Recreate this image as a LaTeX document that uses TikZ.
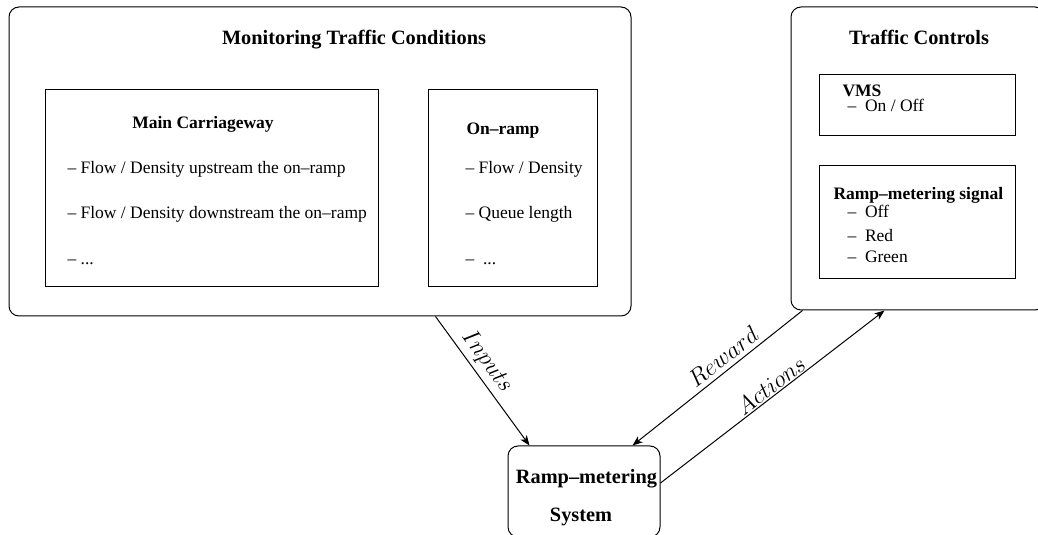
\documentclass[tikz,border=0pt]{standalone}
\usepackage{fontspec}
\setmainfont{Liberation Serif}
\usetikzlibrary{arrows.meta}
\begin{document}
\begin{tikzpicture}[x=0.6pt,y=-0.6pt,
  line width=0.6pt,
  rbox/.style={draw, rounded corners=6pt, inner sep=0pt, minimum width=#1},
  sbox/.style={draw, inner sep=0pt},
  ttl/.style={font=\fontsize{12.2}{14}\selectfont\bfseries, inner sep=0pt, anchor=base},
  sub/.style={font=\fontsize{10.5}{12}\selectfont\bfseries, inner sep=0pt},
  body/.style={font=\fontsize{10.5}{12}\selectfont, inner sep=0pt, anchor=base west},
  lbl/.style={font=\fontsize{14.4}{16}\selectfont, sloped, above},
  arr/.style={-{Stealth[length=6pt,width=4.6pt,inset=1.6pt]}},
  rarr/.style={{Stealth[length=6pt,width=4.6pt,inset=1.6pt]}-}]
\useasboundingbox (0,0) rectangle (1038,535);
\begin{scope}
\clip (0,0) rectangle (1038,535);
% outer boxes
\node[rbox=373.2pt, minimum height=185.4pt] (mon) at (320,161.5) {};
\node[rbox=152.4pt, minimum height=181.8pt] (tc) at (918,158.5) {};
\node[rbox=91.2pt, minimum height=54.6pt] (sys) at (584,491.5) {};
% inner boxes
\node[sbox, minimum width=199.8pt, minimum height=118.2pt] (main) at (211.5,188.5) {};
\node[sbox, minimum width=101.4pt, minimum height=118.2pt] (onr) at (512.5,188.5) {};
\node[sbox, minimum width=117.6pt, minimum height=36.6pt] (vms) at (917,105.5) {};
\node[sbox, minimum width=117.6pt, minimum height=67.8pt] (rms) at (917,222.5) {};
\end{scope}
% titles
\node[ttl] (tmon) at (354,45) {Monitoring Traffic Conditions};
\node[ttl] (ttc) at (919,45) {Traffic Controls};
\node[sub, anchor=base] (tmain) at (203,129) {Main Carriageway};
\node[sub, anchor=base] (tonr) at (503,135) {On--ramp};
\node[sub, anchor=base west] (tvms) at (842,97) {VMS};
\node[sub, anchor=base west] (trms) at (833,200) {Ramp--metering signal};
% main carriageway lines
\node[body] (m1) at (67,174) {-- Flow / Density upstream the on--ramp};
\node[body] (m2) at (67,219) {-- Flow / Density downstream the on--ramp};
\node[body] (m3) at (67,265) {-- ...};
% on-ramp lines
\node[body] (o1) at (465,174) {-- Flow / Density};
\node[body] (o2) at (465,219) {-- Queue length};
\node[body] (o3) at (465,265) {--\ \ ...};
% vms
\node[body] (v1) at (847,112) {--\ \ On / Off};
% ramp-metering signal
\node[body] (r1) at (847,218) {--\ \ Off};
\node[body] (r2) at (847,242) {--\ \ Red};
\node[body] (r3) at (847,263) {--\ \ Green};
% system text
\node[ttl] (s1) at (586.5,484) {Ramp--metering};
\node[ttl] (s2) at (581,522) {System};
% connectors
\draw[arr] ([xshift=-117.6pt]mon.south east) -- ([xshift=13.2pt]sys.north west)
  node[lbl, pos=0.42, inner sep=2.4pt] {$Inputs$};
\draw[rarr] ([xshift=-16.8pt]sys.north east) -- ([xshift=7.2pt]tc.south west)
  node[lbl, pos=0.58, inner sep=2.7pt] {$Reward$};
\draw[arr] ([yshift=5.1pt]sys.east) -- ([xshift=56.4pt]tc.south west)
  node[lbl, pos=0.52, inner sep=0.8pt] {$Actions$};
\end{tikzpicture}
\end{document}
